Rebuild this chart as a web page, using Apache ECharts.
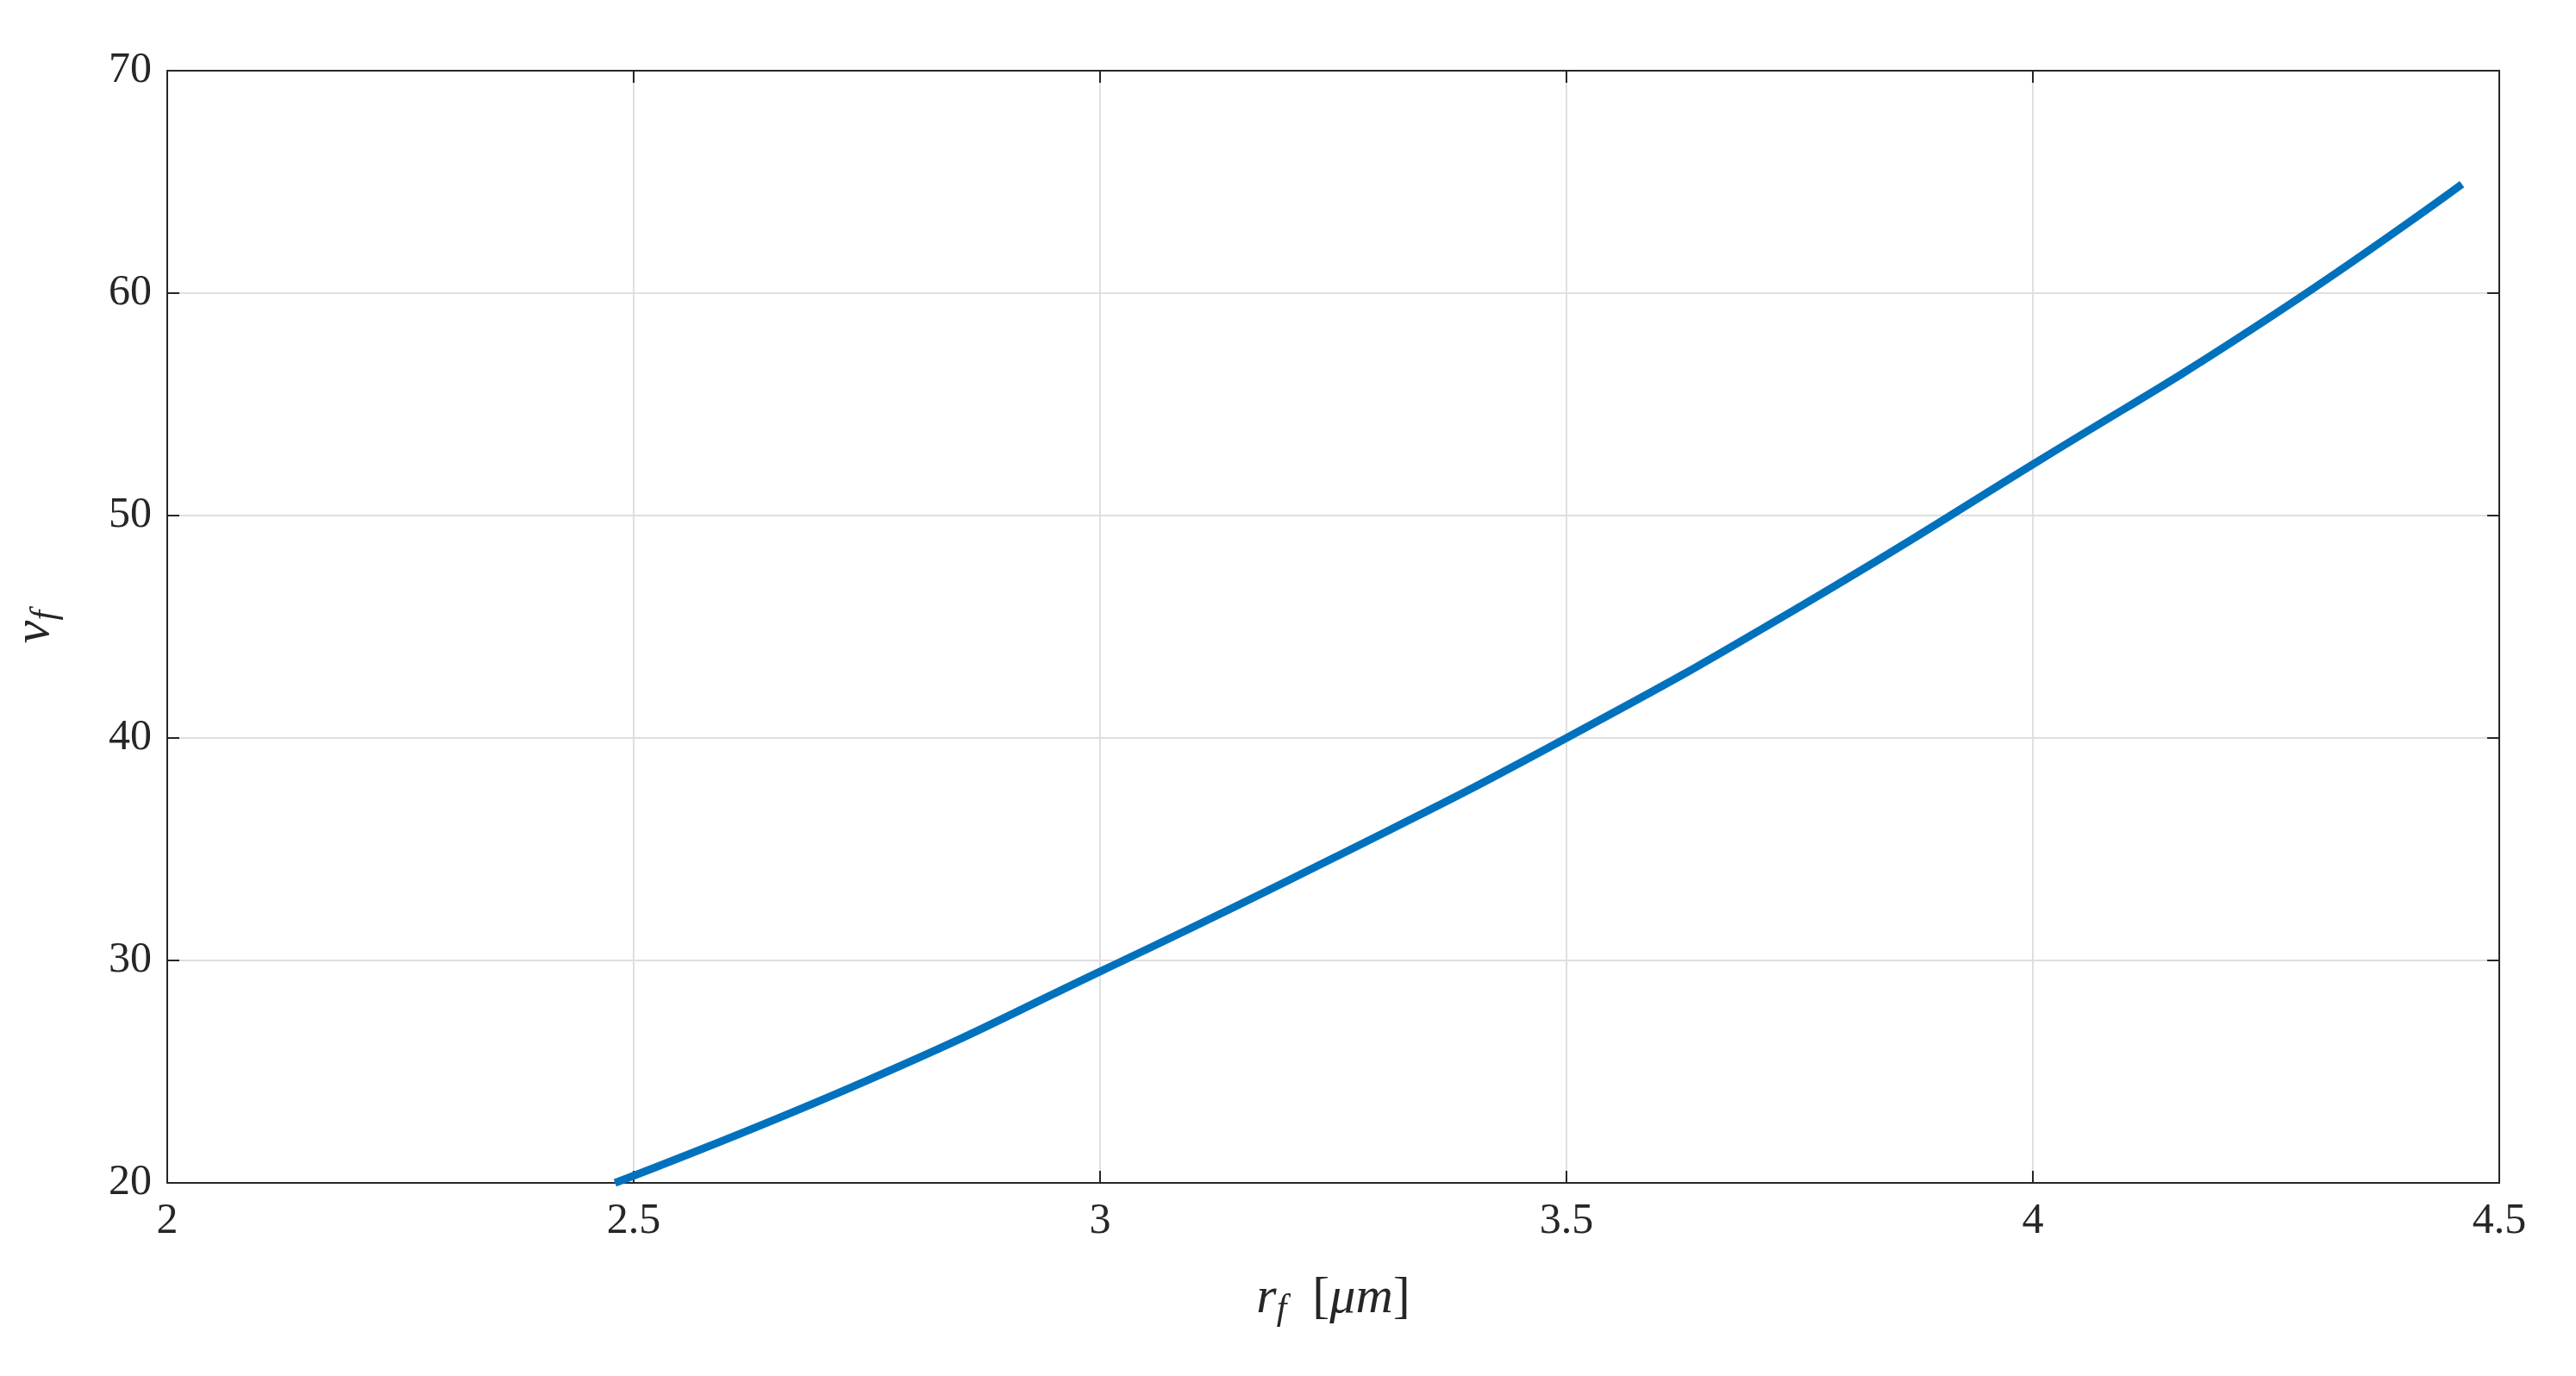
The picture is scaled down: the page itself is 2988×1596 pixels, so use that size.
<!DOCTYPE html>
<html lang="en">
<head>
  <meta charset="UTF-8">
  <title>v_f vs r_f</title>
  <script src="https://cdn.jsdelivr.net/npm/echarts@6/dist/echarts.min.js"></script>
  <style>html,body{margin:0;padding:0;background:#fff}</style>
</head>
<body>
  <div id="main" style="width:2988px;height:1596px;"></div>
  <script type="text/javascript">
    // values
    var rf = [2.48, 2.75, 3.0, 3.25, 3.5, 3.75, 4.0, 4.25, 4.46];
    var vf = [20.0, 24.6, 29.5, 34.6, 40.0, 45.9, 52.3, 58.8, 64.9];

    var font = '"Liberation Serif", "DejaVu Serif", serif';
    var tickStyle = { color: '#262626', fontSize: 50, fontFamily: font };
    var lineStyle = { color: '#262626', width: 2 };

    function boxAxis(pos, extra) {
      return Object.assign({
        type: 'value', position: pos,
        axisLine: { show: true, lineStyle: lineStyle },
        axisTick: { show: true, inside: true, length: 14, lineStyle: lineStyle },
        axisLabel: { show: false },
        splitLine: { show: false }
      }, extra);
    }

    var rich = {
      i: { fontFamily: font, fontStyle: 'italic', fontSize: 60, color: '#262626' },
      n: { fontFamily: font, fontSize: 60, color: '#262626' },
      s: { fontFamily: font, fontStyle: 'italic', fontSize: 42, color: '#262626', padding: [26, 0, 0, 0] }
    };

    var myChart = echarts.init(document.getElementById('main'));
    myChart.setOption({
      animation: false,
      backgroundColor: '#fff',
      grid: { left: 194, right: 89, top: 82, bottom: 224 },
      xAxis: [
        boxAxis('bottom', {
          min: 2, max: 4.5, interval: 0.5,
          axisLabel: { show: true, margin: 20, textStyle: tickStyle },
          splitLine: { show: true, lineStyle: { color: '#dfdfdf', width: 2 } },
          name: '{i|r}{s|f}{n|  [}{i|μm}{n|]}', nameLocation: 'middle', nameGap: 100,
          nameTextStyle: { rich: rich }
        }),
        boxAxis('top', { min: 2, max: 4.5, interval: 0.5 })
      ],
      yAxis: [
        boxAxis('left', {
          min: 20, max: 70, interval: 10,
          axisLabel: { show: true, margin: 18, textStyle: tickStyle },
          splitLine: { show: true, lineStyle: { color: '#dfdfdf', width: 2 } },
          name: '{i|v}{s|f}', nameLocation: 'middle', nameGap: 120, nameRotate: 90,
          nameTextStyle: { rich: rich }
        }),
        boxAxis('right', { min: 20, max: 70, interval: 10 })
      ],
      series: [{
        type: 'line',
        data: rf.map(function (x, i) { return [x, vf[i]]; }),
        smooth: 0.5,
        showSymbol: false,
        lineStyle: { color: '#0072BD', width: 9 }
      }]
    });
  </script>
</body>
</html>
